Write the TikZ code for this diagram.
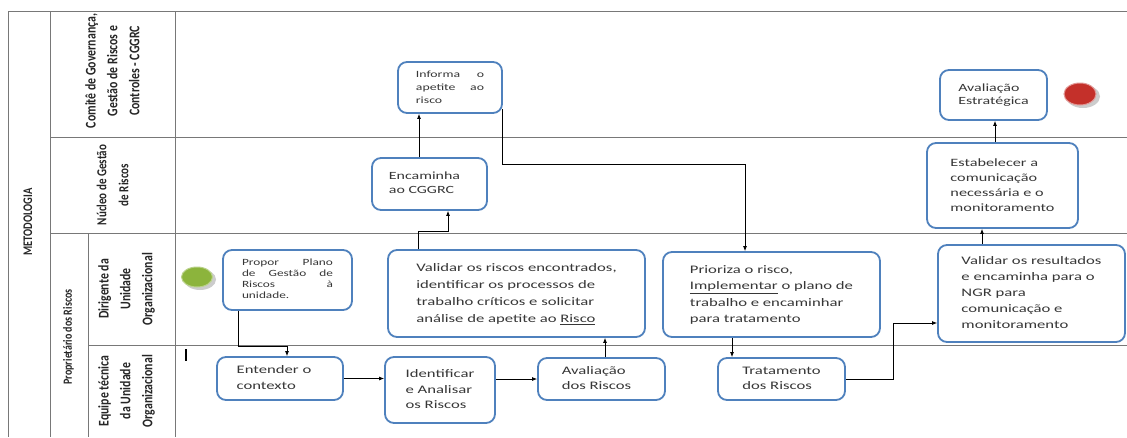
\documentclass[tikz,border=0pt]{standalone}
\usepackage{fontspec}
\setmainfont{Carlito}
\usepackage{graphicx}
\usetikzlibrary{arrows.meta,shapes.geometric}
\definecolor{boxblue}{RGB}{79,129,189}
\definecolor{txtgray}{RGB}{55,55,55}
\definecolor{lanegray}{RGB}{120,120,120}
\definecolor{startgreen}{RGB}{140,180,60}
\definecolor{endred}{RGB}{196,48,42}
\newcommand{\bxt}[3]{\scalebox{1.45}[1]{\fontsize{#1}{#2}\selectfont\begin{tabular}{@{}l@{}}#3\end{tabular}}}
\newcommand{\hdr}[3]{\scalebox{1}[1.25]{\fontsize{#1}{#2}\selectfont\bfseries\begin{tabular}{@{}c@{}}#3\end{tabular}}}
\begin{document}
\begin{tikzpicture}[x=1pt,y=-1pt,
  box/.style={draw=boxblue, line width=1.8pt, rounded corners=9pt, fill=white, text=txtgray, inner sep=0pt},
  lane/.style={draw=lanegray, line width=1pt},
  hd/.style={rotate=90, text=black!85, inner sep=0pt},
  arr/.style={-{Latex[length=5pt,width=4pt]}, line width=0.8pt},
  ]
\fill[white] (0,0) rectangle (1127,437);
\useasboundingbox (0,0) rectangle (1127,437);
% table and lanes
\draw[lane] (8,11) -- (1127,11);
\draw[lane] (8,11) -- (8,437);
\draw[lane] (50,11) -- (50,437);
\draw[lane] (175,11) -- (175,437);
\draw[lane] (88,233) -- (88,437);
\draw[lane] (50,137) -- (1127,137);
\draw[lane] (50,233) -- (1127,233);
\draw[lane] (88,345) -- (1127,345);
% headers
\node[hd] (metod) at (29,222) {\hdr{10.5}{12}{METODOLOGIA}};
\node[hd] (comite) at (113,71) {\hdr{11.8}{17.5}{Comitê de Governança,\\Gestão de Riscos e\\Controles - CGGRC}};
\node[hd] (nucleo) at (113,185) {\hdr{11}{17.5}{Núcleo de Gestão\\de Riscos}};
\node[hd] (propr) at (69,337) {\hdr{10}{12}{Proprietário dos Riscos}};
\node[hd] (dirig) at (126,289) {\hdr{11.8}{17.5}{Dirigente da\\Unidade\\Organizacional}};
\node[hd] (equipe) at (126,391) {\hdr{11.8}{17.5}{Equipe técnica\\da Unidade\\Organizacional}};
% start and end events
\fill[black!20] (200,279.5) ellipse [x radius=16, y radius=10.5];
\node[ellipse, fill=startgreen, draw=startgreen!60!white, line width=1pt, minimum width=31pt, minimum height=20pt, inner sep=0pt] (start) at (197,277) {};
\fill[black!20] (1083,96.5) ellipse [x radius=17, y radius=11.5];
\node[ellipse, fill=endred, draw=endred!50!white, line width=1pt, minimum width=32pt, minimum height=22pt, inner sep=0pt] (fim) at (1080,94) {};
\draw[line width=1.5pt] (186,349) -- (186,361);
% boxes
\node[box, minimum width=129pt, minimum height=60pt] (propor) at (287.5,280)
  {\scalebox{1.4}[1]{\fontsize{9.5}{11}\selectfont\begin{tabular}{@{}l@{}}\hbox to 65pt{Propor\hfill Plano}\\ \hbox to 65pt{de\hfill Gestão\hfill de}\\ \hbox to 65pt{Riscos\hfill à}\\ unidade.\end{tabular}}};
\node[box, minimum width=257pt, minimum height=87pt] (validar) at (516.5,293.5)
  {\bxt{11.5}{17}{Validar os riscos encontrados,\\identificar os processos de\\trabalho críticos e solicitar\\análise de apetite ao \underline{Risco}}};
\node[box, minimum width=217pt, minimum height=85pt] (prioriza) at (771.5,294.5)
  {\bxt{11.5}{16.5}{Prioriza o risco,\\\underline{Implementar} o plano de\\trabalho e encaminhar\\para tratamento}};
\node[box, minimum width=187pt, minimum height=97pt] (validres) at (1031.5,293.5)
  {\bxt{11.5}{16}{Validar os resultados\\e encaminha para o\\NGR para\\comunicação e\\monitoramento}};
\node[box, minimum width=126pt, minimum height=43pt] (entender) at (280,378.5)
  {\bxt{11.5}{15.5}{Entender o\\contexto}\hspace*{12pt}};
\node[box, minimum width=110pt, minimum height=66pt] (identificar) at (440,390)
  {\bxt{11.5}{15.5}{Identificar\\e Analisar\\os Riscos}};
\node[box, minimum width=127pt, minimum height=42pt] (avaliacao) at (601.5,379)
  {\bxt{11.5}{15}{Avaliação\\dos Riscos}\hspace*{10pt}};
\node[box, minimum width=127pt, minimum height=42pt] (tratamento) at (781.5,379)
  {\bxt{11.5}{15}{Tratamento\\dos Riscos}};
\node[box, minimum width=115pt, minimum height=52pt] (encaminha) at (429.5,184)
  {\bxt{11}{14}{Encaminha\\ao CGGRC}\hspace*{10pt}};
\node[box, minimum width=104pt, minimum height=51pt] (informa) at (450,87.5)
  {\scalebox{1.45}[1]{\fontsize{9.5}{13}\selectfont\begin{tabular}{@{}l@{}}\hbox to 47pt{Informa\hfill o}\\ \hbox to 47pt{apetite\hfill ao}\\ risco\end{tabular}}};
\node[box, minimum width=107pt, minimum height=50pt] (avalest) at (993.5,95)
  {\bxt{11}{13}{Avaliação\\Estratégica}};
\node[box, minimum width=151pt, minimum height=85pt] (estab) at (1002.5,185.5)
  {\bxt{11.2}{15}{Estabelecer a\\comunicação\\necessária e o\\monitoramento}};
% connectors
\draw[arr] ([xshift=-49.5pt]propor.south) -- ++(0,35) -| ([xshift=7pt]entender.north);
\draw[arr] (entender.east) -- (entender.east -| identificar.west);
\draw[arr] (avaliacao.west -| identificar.east) -- (avaliacao.west);
\draw[arr] ([xshift=3.5pt]avaliacao.north) -- ([xshift=3.5pt]avaliacao.north |- validar.south);
\draw[arr] ([xshift=-98.5pt]validar.north) -- ++(0,-18) -| ([xshift=18.5pt]encaminha.south);
\draw[arr] ([xshift=-10.5pt]encaminha.north) -- ([xshift=-10.5pt]encaminha.north |- informa.south);
\draw[arr] ([xshift=-1pt,yshift=5pt]informa.south east) -- ++(0,55) -| ([xshift=-26.5pt]prioriza.north);
\draw[arr] ([xshift=-39.5pt]prioriza.south) -- ([xshift=-39.5pt]prioriza.south |- tratamento.north);
\draw[arr] (tratamento.east) -- ++(47,0) |- ([yshift=-29.5pt]validres.west);
\draw[arr] ([xshift=-49.5pt]validres.north) -- ([xshift=-49.5pt]validres.north |- estab.south);
\draw[arr] ([xshift=-7.5pt]estab.north) -- ([xshift=-7.5pt]estab.north |- avalest.south);
\end{tikzpicture}
\end{document}
